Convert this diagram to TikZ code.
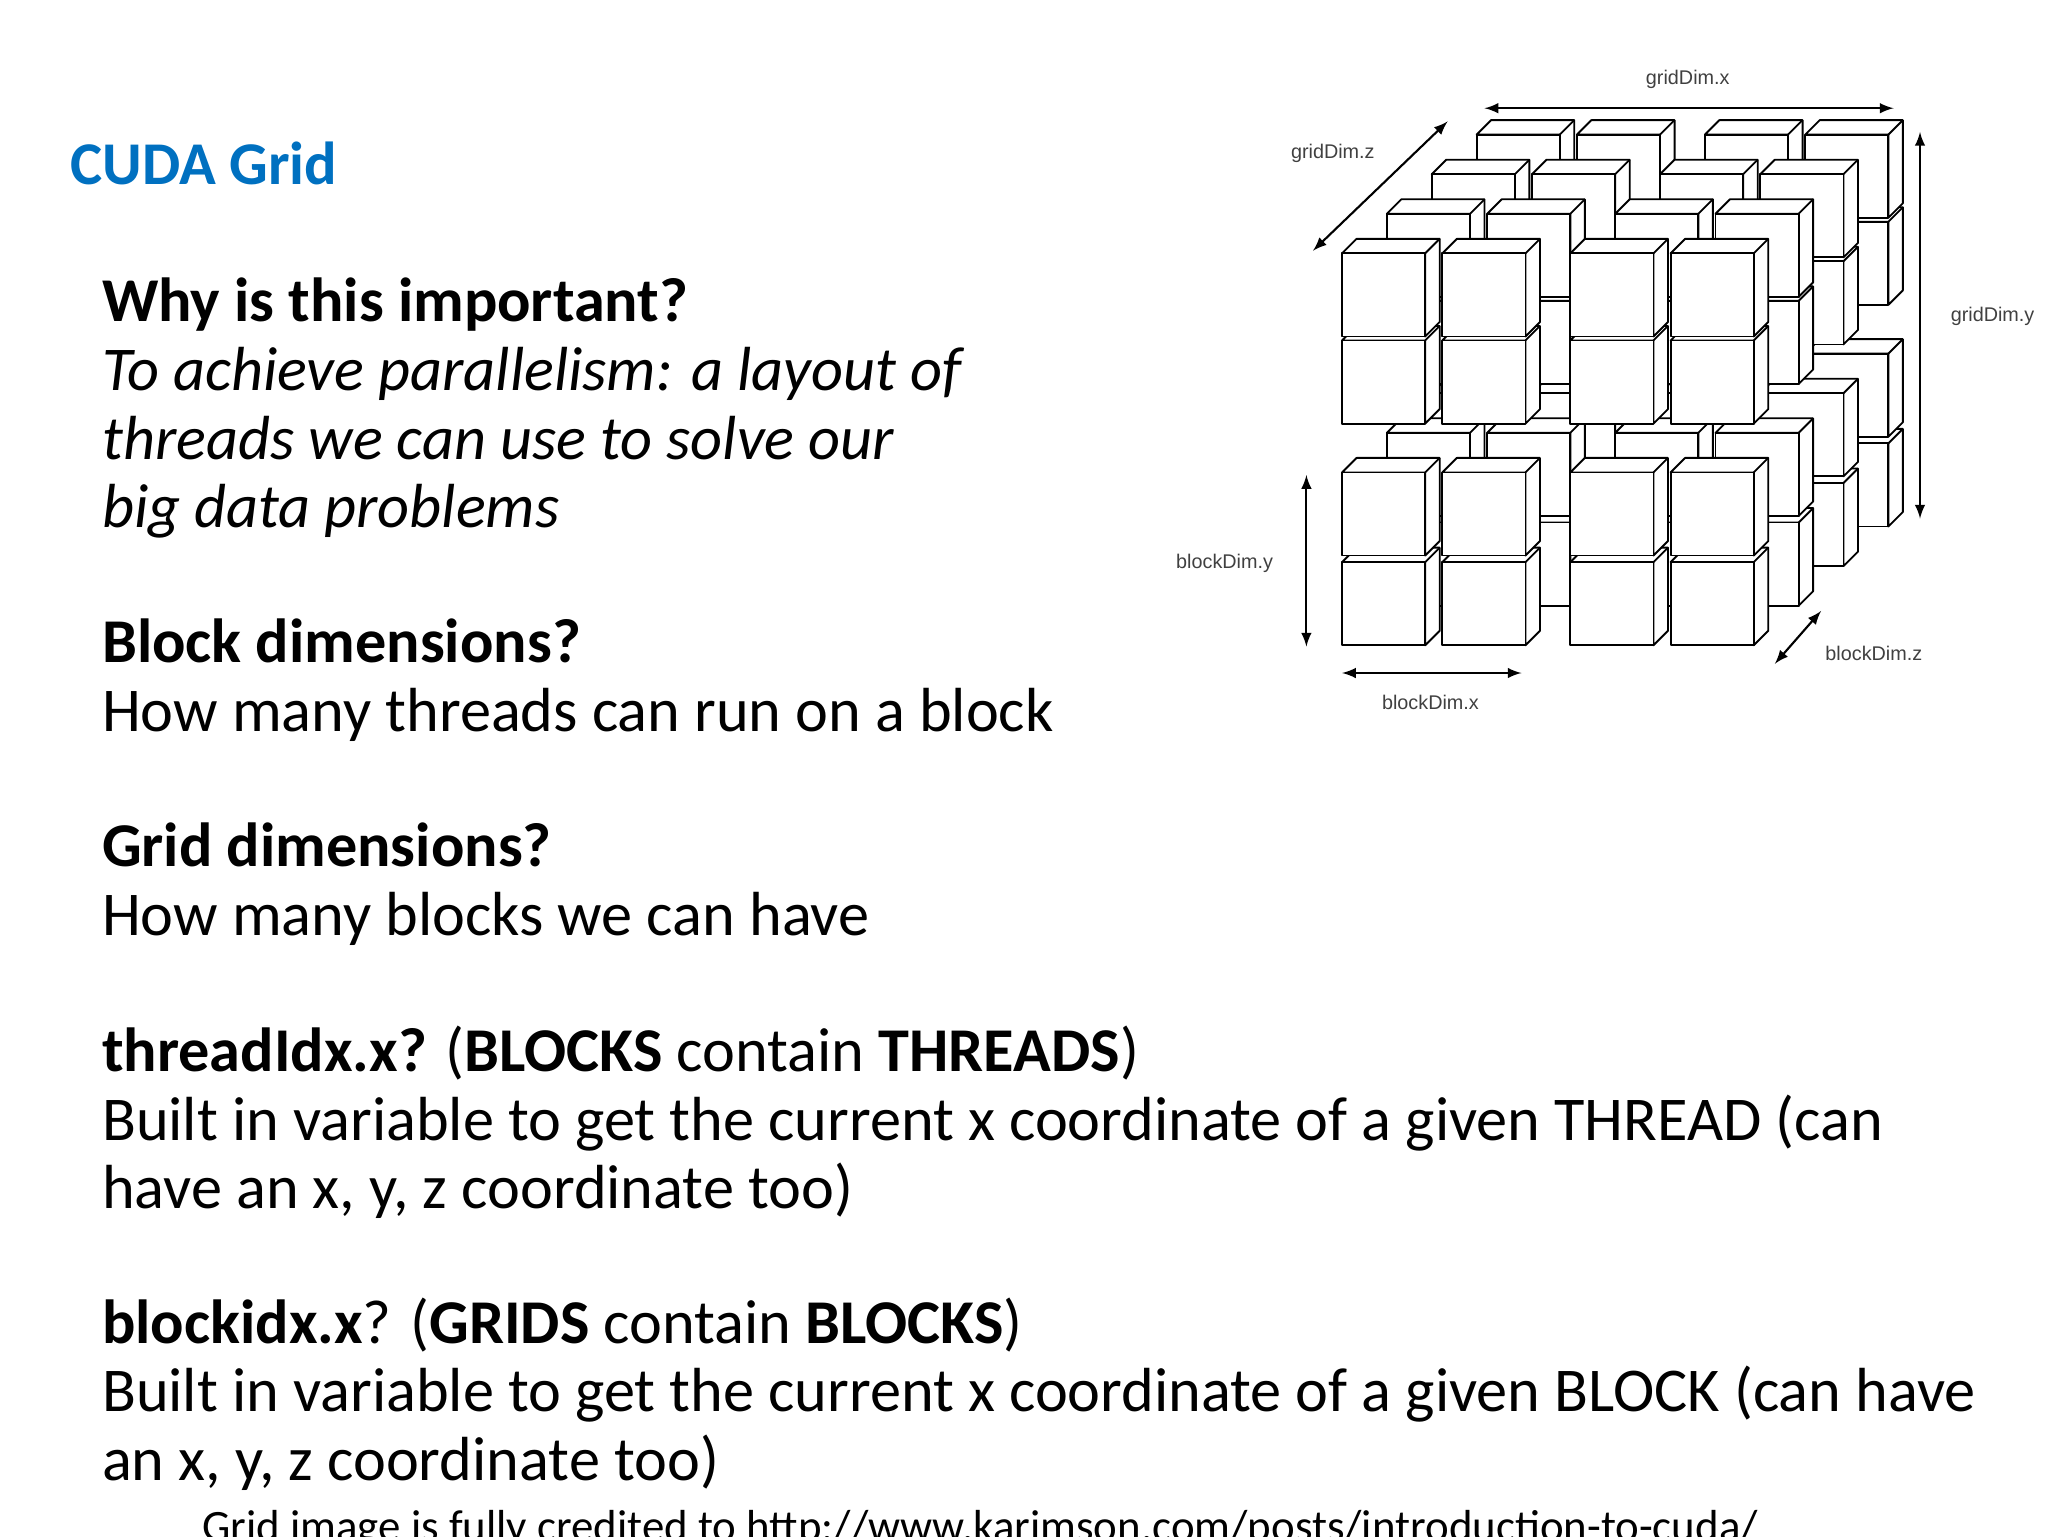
\documentclass[tikz,border=0pt]{standalone}
\usepackage{fontspec}
\setmainfont{Carlito}
\newfontfamily\lblfont{Liberation Sans}
\definecolor{cudablue}{RGB}{0,112,192}
\begin{document}
\begin{tikzpicture}[x=0.5pt,y=-0.5pt,
  txt/.style={anchor=base west,inner sep=0,font=\fontsize{23.6}{28}\selectfont},
  lbl/.style={font=\lblfont\fontsize{7.5}{9}\selectfont,inner sep=1pt,text=black!75},
  dim/.style={<->,>=latex,line width=0.8pt},
  cube/.style={fill=white,draw=black,line width=0.7pt,line join=round}]
\useasboundingbox (0,0) rectangle (1552,1164);
\node[txt,text=cudablue,font=\bfseries\fontsize{23}{28}\selectfont] (title) at (53,140) {CUDA Grid};
\node[txt] (l1) at (77,244) {\textbf{Why is this important?}};
\node[txt] (l2) at (77,296) {\textit{To achieve parallelism: a layout of}};
\node[txt] (l3) at (77,348) {\textit{threads we can use to solve our}};
\node[txt] (l4) at (77,400) {\textit{big data problems}};
\node[txt] (l5) at (77,502) {\textbf{Block dimensions?}};
\node[txt] (l6) at (77,554) {How many threads can run on a block};
\node[txt] (l7) at (77,657) {\textbf{Grid dimensions?}};
\node[txt] (l8) at (77,709) {How many blocks we can have};
\node[txt] (l9) at (77,812) {\textbf{threadIdx.x?} (\textbf{BLOCKS} contain \textbf{THREADS})};
\node[txt] (l10) at (77,864) {Built in variable to get the current x coordinate of a given THREAD (can};
\node[txt] (l11) at (77,916) {have an x, y, z coordinate too)};
\node[txt] (l12) at (77,1018) {\textbf{blockidx.x}? (\textbf{GRIDS} contain \textbf{BLOCKS})};
\node[txt] (l13) at (77,1070) {Built in variable to get the current x coordinate of a given BLOCK (can have};
\node[txt] (l14) at (77,1122) {an x, y, z coordinate too)};
\node[txt,font=\fontsize{17}{20}\selectfont] (foot) at (153,1168) {Grid image is fully credited to http://www.karimson.com/posts/introduction-to-cuda/};
% cubes
\foreach \k in {3,2,1,0}{
  \foreach \y in {424,356,256,190}{
    \foreach \x in {1017,1093,1190,1266}{
      \pgfmathsetmacro{\cx}{\x+\k*34}
      \pgfmathsetmacro{\cy}{\y-\k*30}
      \begin{scope}[shift={(\cx,\cy)}]
        \draw[cube] (0,2) -- (11,-9) -- (74,-9) -- (74,54) -- (63,65) -- (63,2) -- cycle;
        \draw[cube] (0,2) rectangle (63,65);
        \draw[line width=0.7pt] (63,2) -- (74,-9);
      \end{scope}
    }
  }
}
% dimension arrows
\coordinate (gxa) at (1125,82); \coordinate (gxb) at (1435,82);
\draw[dim] (gxa) -- (gxb);
\node[lbl] (gx) at (1279,60) {gridDim.x};
\coordinate (gza) at (995,190); \coordinate (gzb) at (1097,92);
\draw[dim] (gza) -- (gzb);
\node[lbl] (gz) at (1010,116) {gridDim.z};
\coordinate (gya) at (1455,100); \coordinate (gyb) at (1455,393);
\draw[dim] (gya) -- (gyb);
\node[lbl] (gy) at (1510,240) {gridDim.y};
\coordinate (bya) at (990,360); \coordinate (byb) at (990,490);
\draw[dim] (bya) -- (byb);
\node[lbl] (by) at (928,427) {blockDim.y};
\coordinate (bxa) at (1017,510); \coordinate (bxb) at (1153,510);
\draw[dim] (bxa) -- (bxb);
\node[lbl] (bx) at (1084,532) {blockDim.x};
\coordinate (bza) at (1345,503); \coordinate (bzb) at (1380,463);
\draw[dim] (bza) -- (bzb);
\node[lbl] (bz) at (1420,495) {blockDim.z};
\end{tikzpicture}
\end{document}
